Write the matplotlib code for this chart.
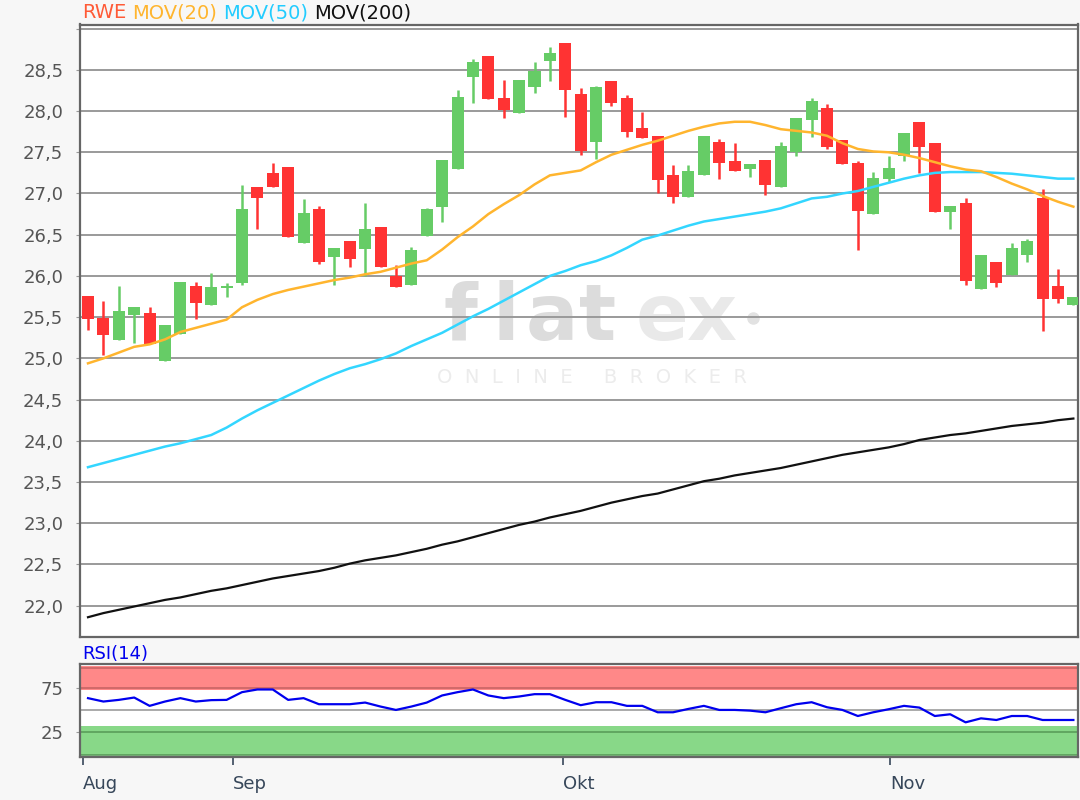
import numpy as np
import matplotlib
matplotlib.use("Agg")
import matplotlib.pyplot as plt

plt.rcParams['font.family'] = ['DejaVu Sans']

# daily candles (open, high, low, close)
OPEN = [25.76, 25.49, 25.22, 25.53, 25.55, 24.97, 25.30, 25.88, 25.65, 25.85,
        25.91, 27.08, 27.25, 27.32, 26.40, 26.81, 26.23, 26.42, 26.33, 26.59,
        26.00, 25.89, 26.48, 26.84, 27.30, 28.41, 28.67, 28.16, 27.98, 28.29,
        28.61, 28.82, 28.21, 27.62, 28.36, 28.16, 27.80, 27.70, 27.22, 26.96,
        27.23, 27.63, 27.39, 27.30, 27.41, 27.08, 27.50, 27.89, 28.04, 27.65,
        27.37, 26.75, 27.17, 27.46, 27.87, 27.61, 26.77, 26.88, 25.84, 26.17,
        26.01, 26.25, 26.95, 25.88, 25.65]
HIGH = [25.76, 25.69, 25.88, 25.62, 25.62, 25.40, 25.93, 25.93, 26.03, 25.91,
        27.10, 27.08, 27.37, 27.32, 26.93, 26.85, 26.34, 26.42, 26.88, 26.59,
        26.13, 26.35, 26.83, 27.41, 28.25, 28.63, 28.67, 28.38, 28.38, 28.60,
        28.78, 28.82, 28.28, 28.31, 28.36, 28.20, 27.99, 27.70, 27.34, 27.34,
        27.70, 27.66, 27.61, 27.36, 27.41, 27.63, 27.92, 28.16, 28.09, 27.65,
        27.39, 27.26, 27.46, 27.73, 27.87, 27.61, 26.85, 26.94, 26.25, 26.17,
        26.40, 26.45, 27.06, 26.08, 25.74]
LOW = [25.35, 25.04, 25.22, 25.19, 25.18, 24.97, 25.30, 25.48, 25.65, 25.75,
       25.89, 26.57, 27.08, 26.47, 26.40, 26.15, 25.89, 26.11, 26.00, 26.11,
       25.87, 25.89, 26.48, 26.65, 27.30, 28.10, 28.15, 27.91, 27.98, 28.22,
       28.37, 27.93, 27.47, 27.42, 28.06, 27.69, 27.67, 27.00, 26.89, 26.96,
       27.23, 27.18, 27.27, 27.20, 26.98, 27.08, 27.45, 27.69, 27.54, 27.36,
       26.31, 26.75, 27.14, 27.40, 27.25, 26.77, 26.57, 25.89, 25.84, 25.86,
       26.01, 26.17, 25.33, 25.67, 25.65]
CLOSE = [25.48, 25.28, 25.57, 25.62, 25.18, 25.40, 25.93, 25.67, 25.86, 25.88,
         26.81, 26.95, 27.08, 26.47, 26.76, 26.17, 26.34, 26.21, 26.57, 26.11,
         25.87, 26.32, 26.81, 27.41, 28.17, 28.60, 28.15, 28.01, 28.38, 28.49,
         28.71, 28.25, 27.51, 28.29, 28.10, 27.74, 27.67, 27.16, 26.96, 27.27,
         27.70, 27.37, 27.27, 27.36, 27.10, 27.58, 27.92, 28.12, 27.57, 27.36,
         26.79, 27.19, 27.31, 27.73, 27.57, 26.77, 26.85, 25.94, 26.25, 25.91,
         26.34, 26.42, 25.72, 25.72, 25.74]

MOV20 = [24.94, 25.00, 25.07, 25.14, 25.17, 25.23, 25.32, 25.37, 25.42, 25.47,
         25.62, 25.71, 25.78, 25.83, 25.87, 25.91, 25.95, 25.98, 26.02, 26.05,
         26.10, 26.15, 26.19, 26.32, 26.47, 26.60, 26.75, 26.87, 26.98, 27.11,
         27.22, 27.25, 27.28, 27.38, 27.47, 27.53, 27.59, 27.64, 27.70, 27.76,
         27.81, 27.85, 27.87, 27.87, 27.83, 27.78, 27.76, 27.74, 27.70, 27.61,
         27.54, 27.51, 27.50, 27.47, 27.43, 27.38, 27.33, 27.29, 27.27, 27.20,
         27.12, 27.05, 26.97, 26.90, 26.84]
MOV50 = [23.68, 23.73, 23.78, 23.83, 23.88, 23.93, 23.97, 24.02, 24.07, 24.16,
         24.27, 24.37, 24.46, 24.55, 24.64, 24.73, 24.81, 24.88, 24.93, 24.99,
         25.06, 25.15, 25.23, 25.31, 25.41, 25.51, 25.60, 25.70, 25.80, 25.90,
         26.00, 26.06, 26.13, 26.18, 26.25, 26.34, 26.44, 26.49, 26.55, 26.61,
         26.66, 26.69, 26.72, 26.75, 26.78, 26.82, 26.88, 26.94, 26.96, 27.00,
         27.03, 27.08, 27.13, 27.18, 27.22, 27.25, 27.26, 27.26, 27.26, 27.25,
         27.24, 27.22, 27.20, 27.18, 27.18]
MOV200 = [21.86, 21.91, 21.95, 21.99, 22.03, 22.07, 22.10, 22.14, 22.18, 22.21,
          22.25, 22.29, 22.33, 22.36, 22.39, 22.42, 22.46, 22.51, 22.55, 22.58,
          22.61, 22.65, 22.69, 22.74, 22.78, 22.83, 22.88, 22.93, 22.98, 23.02,
          23.07, 23.11, 23.15, 23.20, 23.25, 23.29, 23.33, 23.36, 23.41, 23.46,
          23.51, 23.54, 23.58, 23.61, 23.64, 23.67, 23.71, 23.75, 23.79, 23.83,
          23.86, 23.89, 23.92, 23.96, 24.01, 24.04, 24.07, 24.09, 24.12, 24.15,
          24.18, 24.20, 24.22, 24.25, 24.27]
RSI = [63.6, 59.7, 61.6, 64.3, 54.7, 59.7, 63.6, 59.7, 61.3, 61.6,
       70.5, 73.6, 73.6, 61.6, 63.6, 56.6, 56.6, 56.6, 58.5, 53.9,
       50.0, 53.9, 58.5, 66.7, 70.5, 73.6, 66.7, 63.6, 65.5, 68.2,
       68.2, 61.6, 55.5, 58.9, 58.9, 54.7, 54.7, 47.3, 47.3, 51.2,
       54.7, 50.0, 50.0, 49.2, 47.3, 52.0, 56.6, 58.9, 53.1, 50.0,
       43.0, 47.3, 50.8, 54.7, 52.7, 43.0, 45.0, 35.7, 40.3, 38.4,
       43.0, 43.0, 38.4, 38.4, 38.4]

MONTHS = ["Aug", "Sep", "Okt", "Nov"]
MONTH_POS = [-0.32, 9.4, 30.86, 52.1]
PRICE_TICKS = [22.0, 22.5, 23.0, 23.5, 24.0, 24.5, 25.0, 25.5, 26.0, 26.5,
               27.0, 27.5, 28.0, 28.5]

UP = '#66cc66'
DOWN = '#ff3333'
GRID = '#9a9a9a'
SPINE = '#666666'
TICK_TXT = '#555555'
FS = 13

fig = plt.figure(figsize=(10.8, 8), dpi=100, facecolor='#f7f7f7')
ax = fig.add_axes([80/1080, 1-637/800, 998/1080, (637-24.5)/800])
ax_rsi = fig.add_axes([80/1080, 1-757/800, 998/1080, (757-664)/800], sharex=ax)

x = np.arange(len(OPEN))
o, h, l, c = map(np.array, (OPEN, HIGH, LOW, CLOSE))
col = np.where(c >= o, UP, DOWN)

# watermark
wm = dict(transform=fig.transFigure, zorder=0.1, va='baseline', ha='center',
          fontsize=56, fontweight='bold')
for ch, px in zip("flat", [460, 506, 552, 598]):
    ax.text(px/1080, 1-340/800, ch, color='#dcdcdc', **wm)
for ch, px in zip("ex", [662, 712]):
    ax.text(px/1080, 1-340/800, ch, color='#e9e9e9', **wm)
ax.plot([753/1080], [1-318/800], 'o', ms=8, color='#e2e2e2',
        transform=fig.transFigure, zorder=0.1)
ax.text(592/1080, 1-378/800, "O  N  L  I  N  E     B  R  O  K  E  R",
        transform=fig.transFigure, ha='center', va='center', fontsize=14,
        color='#ececec', zorder=0.1)

ax.vlines(x, l, h, colors=col, lw=1.8, zorder=2)
ax.bar(x, np.maximum(np.abs(c - o), 0.02), bottom=np.minimum(o, c), width=0.78,
       color=col, zorder=3)
ax.plot(x, MOV200, color='#111111', lw=1.6, zorder=4)
ax.plot(x, MOV50, color='#33d6ff', lw=1.8, zorder=4)
ax.plot(x, MOV20, color='#ffb52e', lw=1.8, zorder=4)

ax.set_xlim(-0.52, 64.3)
ax.set_ylim(21.62, 29.05)
ax.set_facecolor('white')
ax.set_axisbelow(True)
ax.set_yticks(PRICE_TICKS + [29.0])
ax.set_yticklabels([f"{v:.1f}".replace('.', ',') for v in PRICE_TICKS] + [""])
ax.yaxis.grid(True, color=GRID, lw=1.4)
ax.tick_params(axis='y', length=3, pad=9, color=GRID, labelcolor=TICK_TXT, labelsize=FS)
ax.tick_params(axis='x', bottom=False, labelbottom=False)
for s in ax.spines.values():
    s.set_color(SPINE)
    s.set_linewidth(1.6)

# legend-like header
hx = 82 / 1080
for txt, cl in [("RWE", '#ff5a36'), ("MOV(20)", '#ffb52e'),
                ("MOV(50)", '#22ccff'), ("MOV(200)", '#111111')]:
    t = fig.text(hx, 1-13/800, txt, color=cl, fontsize=14, va='center', ha='left')
    fig.canvas.draw()
    bb = t.get_window_extent()
    hx = (bb.x1 + 6) / 1080

# RSI panel
ax_rsi.set_facecolor('white')
ax_rsi.axhspan(73, 100.5, color='#ff8888', zorder=1, lw=0)
ax_rsi.axhspan(-2.5, 32, color='#88d888', zorder=1, lw=0)
for yv in (98, 75):
    ax_rsi.axhline(yv, color='#c86464', lw=1.2, zorder=1.5)
for yv in (25, -1.5):
    ax_rsi.axhline(yv, color='#5a9e5a', lw=1.2, zorder=1.5)
ax_rsi.axhline(50, color='#aaaaaa', lw=1.4, zorder=1.5)
ax_rsi.plot(x, RSI, color='#0000ee', lw=1.6, zorder=3)
ax_rsi.set_ylim(-4.3, 103)
ax_rsi.set_yticks([25, 75])
ax_rsi.set_yticklabels(["25", "75"])
ax_rsi.tick_params(axis='y', length=3, pad=9, color=GRID, labelcolor=TICK_TXT, labelsize=FS)
ax_rsi.set_xticks(MONTH_POS)
ax_rsi.set_xticklabels(MONTHS)
ax_rsi.tick_params(axis='x', length=6, width=1.2, color='#37475a', labelcolor='#37475a',
                   labelsize=FS, pad=7)
for lab in ax_rsi.get_xticklabels():
    lab.set_ha('left')
for s in ax_rsi.spines.values():
    s.set_color(SPINE)
    s.set_linewidth(1.6)
fig.text(82/1080, 1-654/800, "RSI(14)", color='#0000ee', fontsize=FS, va='center', ha='left')

fig.savefig("out.png", dpi=100, facecolor=fig.get_facecolor())
